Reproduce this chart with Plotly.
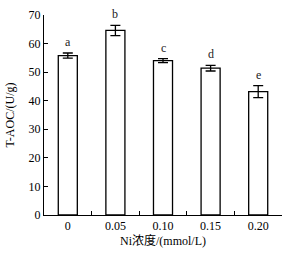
import plotly.graph_objects as go

categories = ["0", "0.05", "0.10", "0.15", "0.20"]
values = [55.8, 64.6, 54.0, 51.4, 43.2]
errors = [0.9, 1.8, 0.7, 1.0, 2.1]
letters = ["a", "b", "c", "d", "e"]

SERIF = "Times New Roman, Liberation Serif, serif"

fig = go.Figure()
fig.add_trace(go.Bar(
    x=categories, y=values, width=0.4,
    marker=dict(color="white", line=dict(color="black", width=1.3)),
    error_y=dict(type="data", array=errors, visible=True, color="black", thickness=1.3, width=5),
    showlegend=False,
))
for i, (v, e, l) in enumerate(zip(values, errors, letters)):
    fig.add_annotation(x=i, y=v + e, xref="x", yref="y", text=l, showarrow=False,
                       yanchor="bottom", yshift=2,
                       font=dict(family=SERIF, size=12, color="#222"))

fig.update_layout(
    width=286, height=255,
    margin=dict(l=44, r=4, t=15, b=40),
    plot_bgcolor="white", paper_bgcolor="white",
    font=dict(family=SERIF, size=12, color="black"),
)
fig.update_xaxes(
    type="category", range=[-0.5, 4.5],
    showline=True, linecolor="black", linewidth=1,
    ticks="inside", ticklen=4, tickcolor="black", tickson="boundaries",
    showgrid=False,
    tickfont=dict(family=SERIF, size=12),
    title=dict(text="Ni浓度/(mmol/L)", standoff=0,
               font=dict(family="Times New Roman, Liberation Serif, Noto Sans CJK SC, serif", size=12)),
)
fig.update_yaxes(
    range=[0, 70], dtick=10,
    showline=True, linecolor="black", linewidth=1,
    ticks="inside", ticklen=4, tickcolor="black",
    showgrid=False, zeroline=False,
    tickfont=dict(family=SERIF, size=12),
    title=dict(text="T-AOC/(U/g)", standoff=11, font=dict(family=SERIF, size=12)),
)
fig.write_html("out.html")
